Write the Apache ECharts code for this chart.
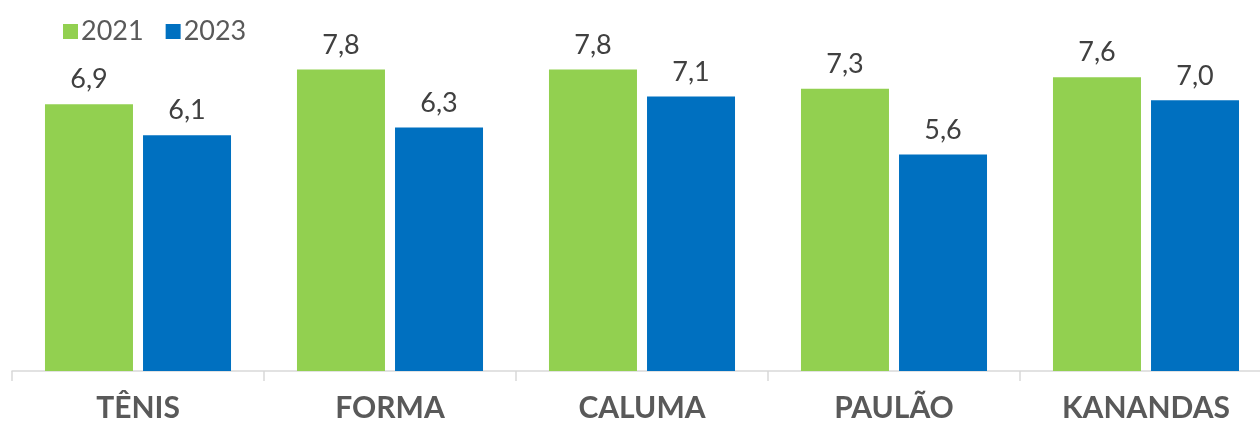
<!DOCTYPE html>
<html>
<head>
<meta charset="utf-8">
<script src="https://cdn.jsdelivr.net/npm/echarts@6/dist/echarts.min.js"></script>
<style>
  html, body { margin: 0; padding: 0; background: #ffffff; }
  #chart { width: 1260px; height: 423px; }
</style>
</head>
<body>
<div id="chart"></div>
<script>
// Scores by team, 2021 vs 2023
const categories = ['TÊNIS', 'FORMA', 'CALUMA', 'PAULÃO', 'KANANDAS'];
const values2021 = [6.9, 7.8, 7.8, 7.3, 7.6];
const values2023 = [6.1, 6.3, 7.1, 5.6, 7.0];
const seriesNames = ['2021', '2023'];

const fmt = p => p.value.toFixed(1).replace('.', ',');

const chart = echarts.init(document.getElementById('chart'), null, { renderer: 'canvas' });
chart.setOption({
  animation: false,
  textStyle: { fontFamily: 'Lato' },
  legend: {
    left: 58,
    top: 13,
    itemWidth: 15,
    itemHeight: 15,
    itemGap: 22,
    icon: 'rect',
    textStyle: { fontFamily: 'Lato', fontSize: 27, color: '#595959', padding: [0, 0, 0, -2] },
    data: seriesNames
  },
  grid: { left: 12, width: 1260, top: 23, bottom: 52, outerBoundsMode: 'none' },
  xAxis: {
    type: 'category',
    data: categories,
    axisLine: { lineStyle: { color: '#d9d9d9', width: 1.5 } },
    axisTick: { show: true, length: 10, lineStyle: { color: '#d9d9d9', width: 1.5 } },
    axisLabel: { fontFamily: 'Lato', fontSize: 30, fontWeight: 'bold', color: '#595959', margin: 22 }
  },
  yAxis: {
    type: 'value',
    min: 0,
    max: 9,
    show: false,
    splitLine: { show: false }
  },
  series: [
    {
      name: seriesNames[0],
      type: 'bar',
      data: values2021,
      barWidth: 88,
      barGap: '11.4%',
      itemStyle: { color: '#92D050' },
      label: { show: true, position: 'top', distance: 11, formatter: fmt,
               fontFamily: 'Lato', fontSize: 27, color: '#404040' }
    },
    {
      name: seriesNames[1],
      type: 'bar',
      data: values2023,
      barWidth: 88,
      itemStyle: { color: '#0070C0' },
      label: { show: true, position: 'top', distance: 11, formatter: fmt,
               fontFamily: 'Lato', fontSize: 27, color: '#404040' }
    }
  ]
});
</script>
</body>
</html>
